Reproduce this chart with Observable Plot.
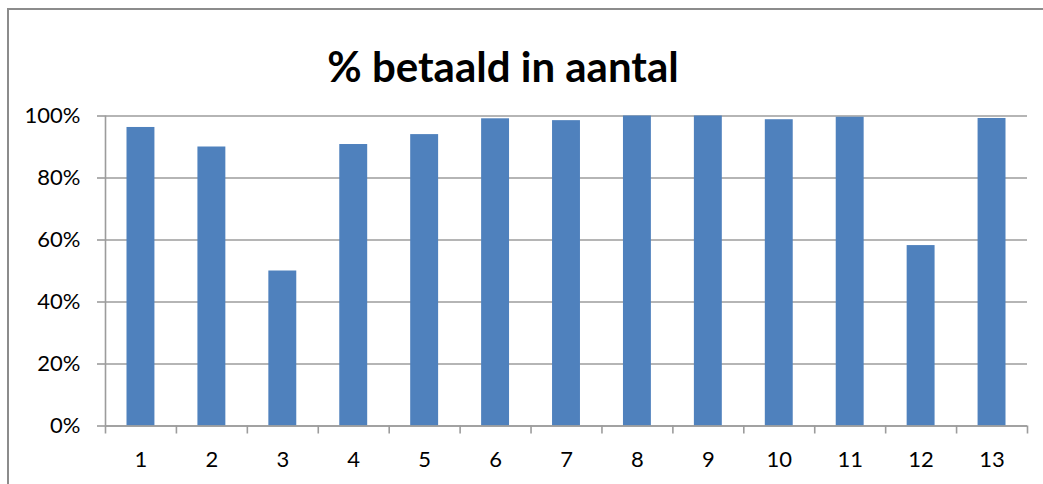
<!DOCTYPE html>
<html>
<head>
<meta charset="utf-8">
<script src="https://cdn.jsdelivr.net/npm/d3@7"></script>
<script src="https://cdn.jsdelivr.net/npm/@observablehq/plot@0.6"></script>
<style>
  html, body { margin: 0; padding: 0; background: #fff; }
  body { width: 1043px; height: 484px; position: relative; overflow: hidden; font-family: Lato, "Open Sans", sans-serif; }
  #frame { position: absolute; left: 7px; top: 8px; width: 1200px; height: 600px; border-left: 2px solid #8c8c8c; border-top: 2px solid #8c8c8c; }
  #title { position: absolute; left: 0; width: 1006px; top: 45px; line-height: 42px; text-align: center; font-weight: 700; font-size: 42px; color: #000; font-family: Lato, sans-serif; white-space: nowrap; }
  #chart { position: absolute; left: 0; top: 0; }
</style>
</head>
<body>
<div id="frame"></div>
<div id="title">% betaald in aantal</div>
<div id="chart"></div>
<script>
const categories = [1, 2, 3, 4, 5, 6, 7, 8, 9, 10, 11, 12, 13];
const values = [0.963, 0.900, 0.500, 0.908, 0.940, 0.991, 0.985, 1.000, 1.000, 0.988, 0.996, 0.582, 0.992];
const yTicks = [0, 0.2, 0.4, 0.6, 0.8, 1.0];
const xBoundaries = [0.5, 1.5, 2.5, 3.5, 4.5, 5.5, 6.5, 7.5, 8.5, 9.5, 10.5, 11.5, 12.5, 13.5];

const data = categories.map((c, i) => ({cat: c, value: values[i]}));

const chart = Plot.plot({
  width: 1043,
  height: 484,
  marginLeft: 105,
  marginRight: 16,
  marginTop: 115.5,
  marginBottom: 58.5,
  style: {fontFamily: "Lato, sans-serif", fontSize: "22px", color: "#000", background: "transparent"},
  x: {type: "linear", domain: [0.5, 13.5]},
  y: {domain: [0, 1]},
  marks: [
    Plot.gridY(yTicks, {stroke: "#9c9c9c", strokeOpacity: 1, strokeWidth: 1.6}),
    Plot.rectY(data, {x1: d => d.cat - 0.5, x2: d => d.cat + 0.5, y: "value", fill: "#4F81BD", insetLeft: 21.5, insetRight: 21.5}),
    Plot.ruleX([0.5], {stroke: "#9c9c9c", strokeWidth: 1.6}),
    Plot.ruleY([0], {stroke: "#9c9c9c", strokeWidth: 1.6}),
    Plot.axisY(yTicks, {tickFormat: d3.format(".0%"), tickSize: 8, tickPadding: 17, stroke: "#9c9c9c", strokeWidth: 1.6, label: null, fontSize: 22}),
    Plot.axisX(xBoundaries, {tickSize: 8, tickFormat: () => "", stroke: "#9c9c9c", strokeWidth: 1.6, label: null}),
    Plot.axisX(categories, {tickSize: 0, tickPadding: 25, tickFormat: d => String(d), label: null, fontSize: 22})
  ]
});
document.getElementById("chart").appendChild(chart);
</script>
</body>
</html>
